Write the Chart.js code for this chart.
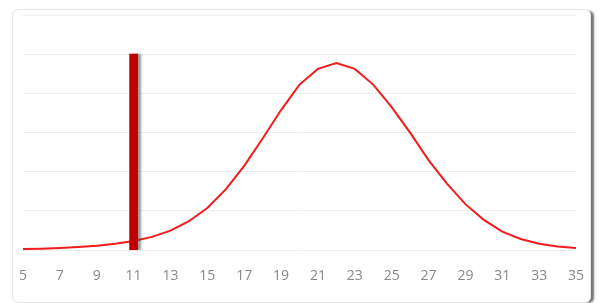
<!DOCTYPE html>
<html>
<head>
<meta charset="utf-8">
<script src="https://cdn.jsdelivr.net/npm/chart.js@4/dist/chart.umd.min.js"></script>
<style>
  html, body { margin: 0; padding: 0; background: #ffffff; width: 604px; height: 303px; overflow: hidden; }
  #frame { position: absolute; left: 12px; top: 9px; width: 577px; height: 292px; border: 1px solid #e6e6e6; border-radius: 6px; box-shadow: 4px 1px 2px -1px rgba(0,0,0,0.55); background: #fff; }
  #wrap { position: absolute; left: 0; top: 0; width: 604px; height: 303px; }
</style>
</head>
<body>
<div id="frame"></div>
<div id="wrap"><canvas id="c" width="604" height="303"></canvas></div>
<script>
const xValues = [5,6,7,8,9,10,11,12,13,14,15,16,17,18,19,20,21,22,23,24,25,26,27,28,29,30,31,32,33,34,35];
const density = [0.0006,0.0008,0.0011,0.0016,0.0023,0.0033,0.0047,0.0068,0.0100,0.0148,0.0215,0.0310,0.0430,0.0570,0.0715,0.0845,0.0925,0.0955,0.0925,0.0845,0.0730,0.0600,0.0460,0.0340,0.0235,0.0155,0.0095,0.0057,0.0033,0.0019,0.0011];
const markerX = [11];
const markerY = [0.10];
const yTicks = [0, 0.02, 0.04, 0.06, 0.08, 0.10, 0.12];

const curvePoints = xValues.map((x, i) => ({ x: x, y: density[i] }));
const markerPoints = markerX.map((x, i) => ({ x: x, y: markerY[i] }));

const shadowPlugin = {
  id: 'barShadow',
  beforeDatasetDraw(chart, args) {
    if (args.index === 1) {
      const ctx = chart.ctx;
      ctx.save();
      ctx.shadowColor = 'rgba(60,60,60,0.55)';
      ctx.shadowOffsetX = 3;
      ctx.shadowOffsetY = 0;
      ctx.shadowBlur = 2;
    }
  },
  afterDatasetDraw(chart, args) {
    if (args.index === 1) chart.ctx.restore();
  }
};

new Chart(document.getElementById('c'), {
  data: {
    datasets: [
      {
        type: 'line',
        data: curvePoints,
        borderColor: '#f21c1c',
        borderWidth: 2,
        pointRadius: 0,
        tension: 0,
        fill: false,
        order: 2
      },
      {
        type: 'bar',
        data: markerPoints,
        backgroundColor: '#c00000',
        barThickness: 8,
        order: 1
      }
    ]
  },
  options: {
    responsive: false,
    animation: false,
    devicePixelRatio: 1,
    layout: { padding: { left: 23, right: 28, top: 15, bottom: 10 } },
    plugins: { legend: { display: false }, tooltip: { enabled: false } },
    scales: {
      x: {
        type: 'linear',
        min: 5,
        max: 35,
        offset: false,
        grid: { display: false },
        border: { display: false },
        ticks: {
          stepSize: 2,
          padding: 9,
          color: '#888888',
          font: { family: 'Open Sans', size: 14 }
        }
      },
      y: {
        min: 0,
        max: 0.12,
        display: true,
        afterBuildTicks(axis) { axis.ticks = yTicks.map(v => ({ value: v })); },
        grid: { color: '#ededed', lineWidth: 1, drawTicks: false },
        border: { display: false },
        ticks: { display: false }
      }
    }
  },
  plugins: [shadowPlugin]
});
</script>
</body>
</html>
